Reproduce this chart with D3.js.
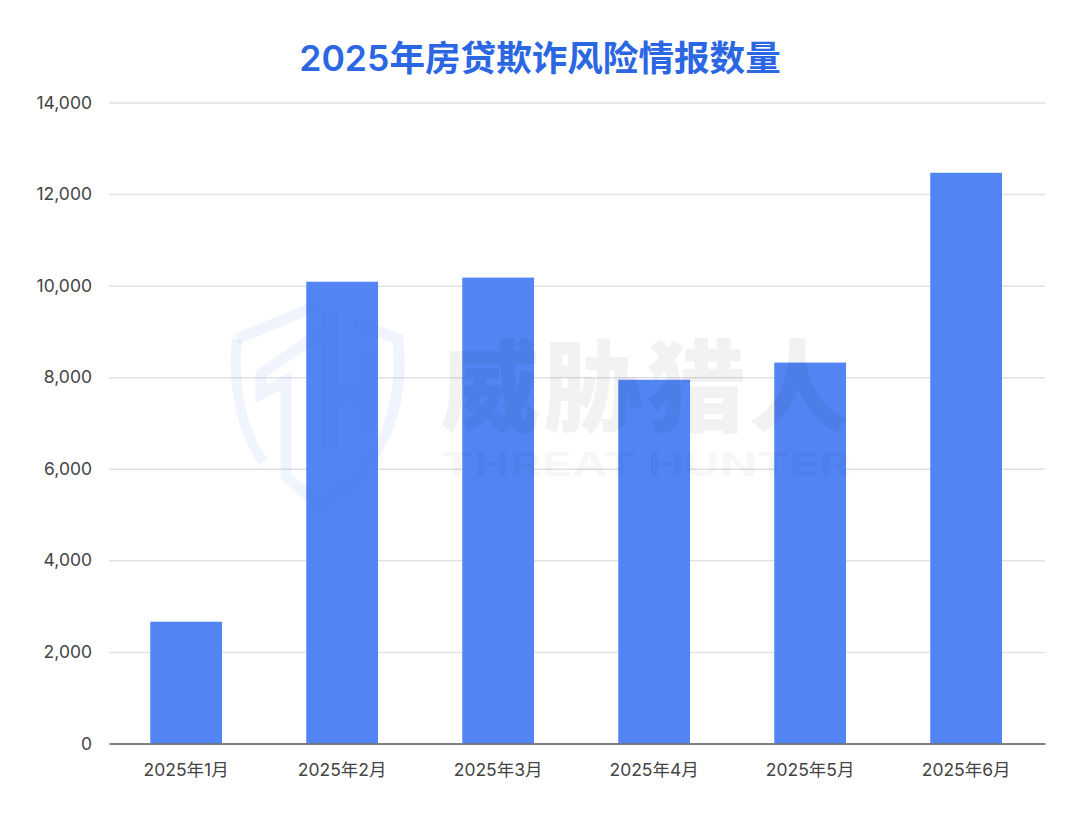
<!DOCTYPE html>
<html>
<head>
<meta charset="utf-8">
<script src="https://cdn.jsdelivr.net/npm/d3@7"></script>
<style>
html, body { margin: 0; padding: 0; background: #fff; }
text { font-family: Inter, "Noto Sans CJK SC", sans-serif; }
.tick text { font-size: 17.5px; fill: #444; }
</style>
</head>
<body>
<div id="chart"></div>
<script>
var months = ['2025年1月', '2025年2月', '2025年3月', '2025年4月', '2025年5月', '2025年6月'];
var counts = [2660, 10085, 10175, 7945, 8320, 12465];
var yTicks = [0, 2000, 4000, 6000, 8000, 10000, 12000, 14000];
var titleText = '2025年房贷欺诈风险情报数量';

var width = 1080, height = 815;
var plotLeft = 109, plotRight = 1045, plotTop = 102.5, plotBottom = 743.5;

var svg = d3.select('#chart').append('svg')
	.attr('width', width)
	.attr('height', height)
	.style('display', 'block');

var x = d3.scaleBand().domain(months).range([plotLeft, plotRight]).paddingInner(0.54).paddingOuter(0.27).align(0.49);
var y = d3.scaleLinear().domain([0, 14000]).range([plotBottom, plotTop]);

svg.append('text')
	.attr('x', 540)
	.attr('y', 71)
	.attr('text-anchor', 'middle')
	.attr('font-size', 35.6)
	.attr('font-weight', 600)
	.attr('fill', '#2b66e3')
	.text(titleText);

// gridlines + y labels
var yAxis = svg.append('g')
	.attr('transform', 'translate(' + plotLeft + ',0)')
	.call(d3.axisLeft(y).tickValues(yTicks).tickSize(-(plotRight - plotLeft)).tickPadding(17).tickFormat(d3.format(',')));
yAxis.select('.domain').remove();
yAxis.selectAll('.tick line').attr('stroke', '#dfe1e5').attr('stroke-width', 1.5);

svg.selectAll('.bar')
	.data(counts)
	.enter().append('rect')
	.attr('class', 'bar')
	.attr('x', function(d, i) { return x(months[i]); })
	.attr('y', function(d) { return y(d); })
	.attr('width', x.bandwidth())
	.attr('height', function(d) { return y(0) - y(d); })
	.attr('fill', '#5284f3');

var xAxis = svg.append('g')
	.attr('transform', 'translate(0,' + plotBottom + ')')
	.call(d3.axisBottom(x).tickSize(0).tickPadding(20));
xAxis.select('.domain').attr('stroke', '#5a5f66').attr('stroke-width', 1.5);

// watermark sits over the bars
var mark = svg.append('g').attr('pointer-events', 'none');

var shieldParts = [
	{ d: 'M237 339 L317 306', w: 11 },
	{ d: 'M354 322 L398 339 C404 400 388 468 318 505 L286 476 V381 L261 394 V374 L322 332', w: 11 },
	{ d: 'M237 339 C232 390 243 432 263 462', w: 10 },
	{ d: 'M330 312 V450 M367 353 V430 M330 394 H367', w: 17 }
];
mark.selectAll('.shield')
	.data(shieldParts)
	.enter().append('path')
	.attr('class', 'shield')
	.attr('d', function(d) { return d.d; })
	.attr('fill', 'none')
	.attr('stroke', '#3d74e8')
	.attr('stroke-opacity', 0.08)
	.attr('stroke-width', function(d) { return d.w; });

mark.append('text')
	.attr('x', 440)
	.attr('y', 424)
	.attr('font-size', 100)
	.attr('font-weight', 900)
	.attr('letter-spacing', 3)
	.attr('fill', '#000')
	.attr('fill-opacity', 0.05)
	.text('威胁猎人');

mark.append('text')
	.attr('x', 441)
	.attr('y', 476)
	.attr('font-size', 32)
	.attr('font-weight', 700)
	.attr('textLength', 410)
	.attr('lengthAdjust', 'spacingAndGlyphs')
	.attr('fill', '#000')
	.attr('fill-opacity', 0.05)
	.text('THREAT HUNTER');
</script>
</body>
</html>
